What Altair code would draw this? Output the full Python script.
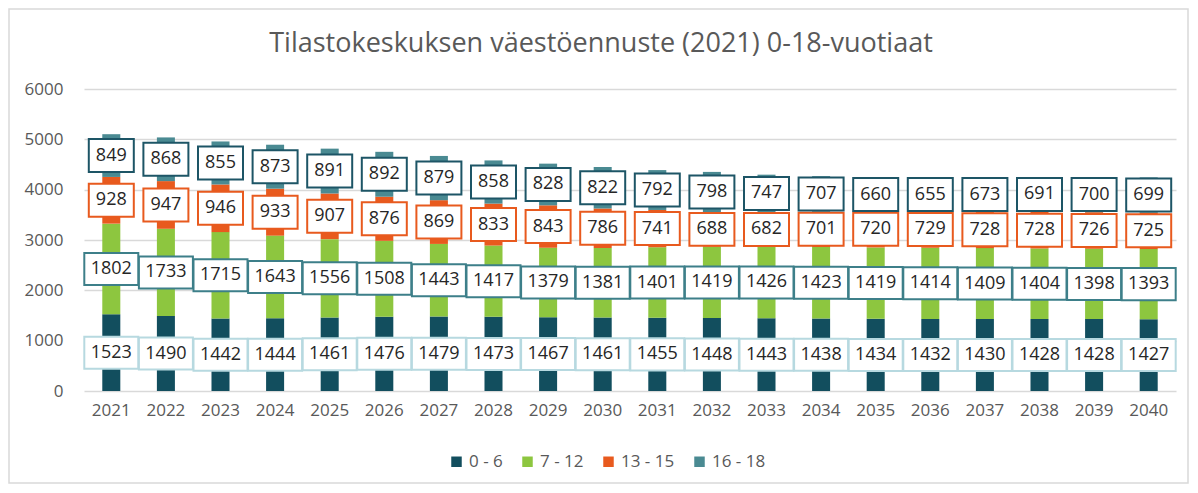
import altair as alt
import pandas as pd

title_text = "Tilastokeskuksen väestöennuste (2021) 0-18-vuotiaat"
years = [str(y) for y in range(2021, 2041)]
series = ["0 - 6", "7 - 12", "13 - 15", "16 - 18"]
v_0_6 = [1523, 1490, 1442, 1444, 1461, 1476, 1479, 1473, 1467, 1461, 1455, 1448, 1443, 1438, 1434, 1432, 1430, 1428, 1428, 1427]
v_7_12 = [1802, 1733, 1715, 1643, 1556, 1508, 1443, 1417, 1379, 1381, 1401, 1419, 1426, 1423, 1419, 1414, 1409, 1404, 1398, 1393]
v_13_15 = [928, 947, 946, 933, 907, 876, 869, 833, 843, 786, 741, 688, 682, 701, 720, 729, 728, 728, 726, 725]
v_16_18 = [849, 868, 855, 873, 891, 892, 879, 858, 828, 822, 792, 798, 747, 707, 660, 655, 673, 691, 700, 699]

bar_colors = ["#124e5e", "#8dc63f", "#e85a1e", "#4a8a92"]
box_colors = ["#b7d9e0", "#3d7f89", "#e85a1e", "#1d5566"]

FONT = "Open Sans"
GREY = "#595959"

rows = []
for i, (name, vals) in enumerate(zip(series, [v_0_6, v_7_12, v_13_15, v_16_18])):
    for y, v in zip(years, vals):
        rows.append({"year": y, "series": name, "value": v, "order": i})
df = pd.DataFrame(rows)

W, H = 1092, 302

x_enc = alt.X("year:N", title=None, sort=years,
              scale=alt.Scale(paddingInner=0.67),
              axis=alt.Axis(labelAngle=0, labelFontSize=17, labelColor=GREY, labelFont=FONT,
                            ticks=False, domain=False, labelPadding=11, grid=False))

base = alt.Chart(df)

bars = base.mark_bar().encode(
    x=x_enc,
    y=alt.Y("sum(value):Q", title=None, stack="zero",
            scale=alt.Scale(domain=[0, 6000]),
            axis=alt.Axis(values=[0, 1000, 2000, 3000, 4000, 5000, 6000], format="d",
                          labelFontSize=17,
                          labelColor=GREY, labelFont=FONT, ticks=False, domain=False,
                          labelPadding=21, gridColor="#d9d9d9", gridWidth=1.5)),
    color=alt.Color("series:N", sort=series,
                    scale=alt.Scale(domain=series, range=bar_colors),
                    legend=alt.Legend(title=None, orient="none", direction="horizontal",
                                      legendX=364, legendY=364, symbolType="square",
                                      symbolSize=110, symbolStrokeWidth=0,
                                      labelFontSize=17, labelColor=GREY, labelFont=FONT,
                                      labelOffset=4, columnPadding=16)),
    order=alt.Order("order:Q", sort="ascending"),
)

stacked = base.transform_stack(
    stack="value", as_=["y0", "y1"], groupby=["year"], sort=[alt.SortField("order", order="ascending")]
).transform_calculate(mid="(datum.y0 + datum.y1) / 2")

path4 = "M-1,-0.593L1,-0.593L1,0.593L-1,0.593Z"
path3 = "M-1,-0.733L1,-0.733L1,0.733L-1,0.733Z"

layers = [bars]
for i, name in enumerate(series):
    shape = path4 if i < 2 else path3
    size = 54 * 54 if i < 2 else 45 * 45
    sub = stacked.transform_filter(alt.datum.series == name)
    boxes = sub.mark_point(shape=shape, size=size, filled=False, fill="white", fillOpacity=1,
                           stroke=box_colors[i], strokeWidth=2, opacity=1).encode(
        x=alt.X("year:N", sort=years),
        y=alt.Y("mid:Q"),
    )
    texts = sub.mark_text(fontSize=18, font=FONT, color="#262626", baseline="middle").encode(
        x=alt.X("year:N", sort=years),
        y=alt.Y("mid:Q"),
        text=alt.Text("value:Q"),
    )
    layers += [boxes, texts]

one = pd.DataFrame({"t": [title_text]})
frame = alt.Chart(one).mark_rect(
    fill=None, stroke="#d9d9d9", strokeWidth=1.5
).encode(x=alt.value(-75), x2=alt.value(W + 12), y=alt.value(-80), y2=alt.value(H + 92))

title = alt.Chart(one).mark_text(
    fontSize=27, font=FONT, color=GREY, align="center", baseline="alphabetic"
).encode(x=alt.value(W / 2 - 29), y=alt.value(-37), text="t:N")

chart = alt.layer(frame, title, *layers).properties(
    width=W, height=H,
    padding={"left": 76, "top": 81, "right": 14, "bottom": 94},
    autosize=alt.AutoSizeParams(type="none"),
).configure_view(stroke=None)

chart.save("out.html", embed_options={"renderer": "svg", "actions": False})
